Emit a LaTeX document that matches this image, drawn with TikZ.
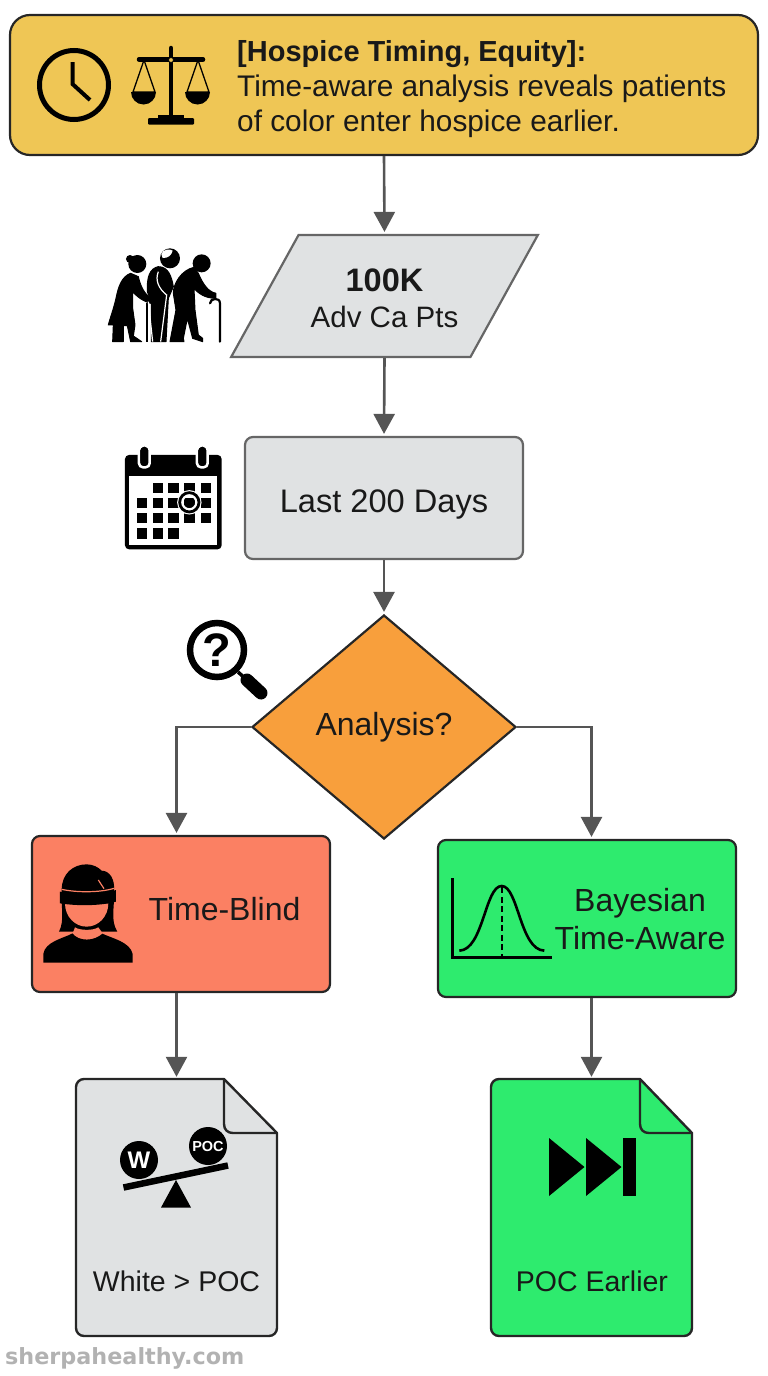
\documentclass[tikz,border=0pt]{standalone}
\usepackage{fontspec}
\setmainfont{Liberation Sans}
\newfontfamily\markfont{DejaVu Sans}
\usetikzlibrary{arrows.meta}
\usetikzlibrary{shapes.geometric}
\definecolor{headfill}{HTML}{EFC655}
\definecolor{grayfill}{HTML}{E0E2E3}
\definecolor{orangefill}{HTML}{F89F3C}
\definecolor{redfill}{HTML}{FB8063}
\definecolor{greenfill}{HTML}{2EEB6E}
\definecolor{linkgray}{HTML}{555555}
\newcommand{\fs}[1]{\fontsize{#1}{#1}\selectfont}
\tikzset{
  box/.style={rectangle,rounded corners=8pt,draw=black!85,line width=2.2pt,inner sep=0pt},
  graybox/.style={box,draw=black!60,fill=grayfill},
  lab/.style={inner sep=0pt,font=\fs{32},text=black!90},
  doclab/.style={inner sep=0pt,font=\fs{28.5},text=black!90},
  link/.style={draw=linkgray,line width=2.6pt,shorten >=2pt,-{Triangle[length=20pt,width=21pt]}},
  sheet/.style={draw=black!85,line width=2.4pt,line join=round},
  icon/.style={fill=black,draw=none},
  figure/.style={fill=black,draw=black,line width=1pt,line join=round},
  docspot/.style={inner sep=0pt,minimum width=201pt,minimum height=257pt}
}
\begin{document}
\begin{tikzpicture}[x=1pt,y=-1pt]
  \useasboundingbox (0,0) rectangle (768,1376);

  \node[box,fill=headfill,rounded corners=20pt,minimum width=748pt,minimum height=140pt] (head) at (384,85) {};
  \node[inner sep=0pt,anchor=north west,align=left,font=\fontsize{29.8}{35}\selectfont,text=black!90] (headtext) at (237,40)
    {{\fontsize{29}{35}\selectfont\textbf{[Hospice Timing, Equity]:}}\\Time-aware analysis reveals patients\\of color enter hospice earlier.};

  \node[trapezium,trapezium stretches=true,trapezium left angle=64.6,trapezium right angle=115.4,draw=black!60,fill=grayfill,
    line width=2.2pt,inner sep=0pt,minimum width=307pt,minimum height=122pt] (cohort) at (384.5,296) {\phantom{M}};
  \node[lab,font=\fs{32.5}\bfseries] (cohortnum) at (384.5,280) {100K};
  \node[lab,font=\fs{29.5}] (cohortname) at (384.5,317) {Adv Ca Pts};

  \node[graybox,minimum width=278pt,minimum height=122pt] (window) at (384,498) {};
  \node[lab,font=\fs{32.6}] (windowname) at (384,504) {Last 200 Days};

  \node[diamond,draw=black!85,fill=orangefill,line width=2.2pt,inner sep=0pt,minimum width=264pt,minimum height=224pt] (analysis) at (384,727) {\phantom{M}};
  \node[lab] (analysisname) at (384,727) {Analysis?};

  \node[box,fill=redfill,minimum width=298pt,minimum height=156pt] (blind) at (181,914) {};
  \node[lab] (blindname) at (224.5,909) {Time-Blind};

  \node[box,fill=greenfill,minimum width=298pt,minimum height=157pt] (aware) at (587,918.5) {};
  \node[lab,align=center,font=\fontsize{32}{38.5}\selectfont] (awarename) at (640,919) {Bayesian\\Time-Aware};

  \node[docspot] (leftdoc) at (176.5,1207.5) {};
  \node[docspot] (rightdoc) at (591.5,1207.5) {};

  \draw[sheet,fill=grayfill] (84,1079) -- (224,1079) -- (277,1133) -- (277,1328) arc[start angle=0,end angle=90,radius=8]
    -- (84,1336) arc[start angle=90,end angle=180,radius=8] -- (76,1087) arc[start angle=180,end angle=270,radius=8] -- cycle;
  \draw[sheet] (224,1079) -- (224,1124) .. controls (224,1130) and (228,1133) .. (233,1133) -- (277,1133);
  \draw[sheet,fill=greenfill] (499,1079) -- (640,1079) -- (692,1133) -- (692,1328) arc[start angle=0,end angle=90,radius=8]
    -- (499,1336) arc[start angle=90,end angle=180,radius=8] -- (491,1087) arc[start angle=180,end angle=270,radius=8] -- cycle;
  \draw[sheet] (640,1079) -- (640,1124) .. controls (640,1130) and (644,1133) .. (649,1133) -- (692,1133);
  \node[doclab] (leftdocname) at (176.5,1281) {White > POC};
  \node[doclab] (rightdocname) at (592,1281) {POC Earlier};

  \draw[link] (head.south) -- (cohort.north);
  \draw[link] (cohort.south) -- (window.north);
  \draw[link] (window.south) -- (analysis.north);
  \draw[link] (analysis.west) -| (leftdoc.north |- blind.north);
  \draw[link] (analysis.east) -| (rightdoc.north |- aware.north);
  \draw[link] (leftdoc.north |- blind.south) -- (leftdoc.north);
  \draw[link] (rightdoc.north |- aware.south) -- (rightdoc.north);

  % clock
  \draw[line width=5pt] (74,85) circle[radius=34.5];
  \draw[line width=4pt] (72.5,62) -- (72.5,84) -- (90,100);

  % scales
  \draw[line width=4.5pt,line cap=round] (139,59.5) -- (203,59.5);
  \draw[line width=4.5pt,line cap=round] (171,48) -- (171,118);
  \fill (158,115) rectangle (184,120);
  \fill[rounded corners=1pt] (148,118) rectangle (194,124.5);
  \draw[line width=1.3pt,line join=round] (144,60) -- (133,92) -- (155,92) -- cycle (198,60) -- (187,92) -- (209,92) -- cycle;
  \foreach \panx in {143.5,197.5}
    \fill (\panx-12.5,92) arc[start angle=180,end angle=0,radius=12.5] -- cycle;
  \draw[fill=headfill,line width=.8pt] (171,60) circle[radius=2.5];

  % elderly group
  \begin{scope}[shift={(90,230)},x=.3333pt,y=-.3333pt]
    \fill (142,102) circle[radius=27pt/3] (120,87) circle[radius=12pt/3];
    \path[figure] (122,130) .. controls (95,140) and (85,170) .. (78,205) .. controls (70,240) and (60,265) .. (55,285)
      -- (70,285) -- (68,335) -- (100,335) -- (100,287) -- (112,287) -- (122,335) -- (155,335) -- (130,318) -- (135,285)
      -- (128,235) -- (128,185) .. controls (145,205) and (170,220) .. (195,222) -- (197,208) .. controls (175,205) and (155,185) .. (145,140) -- cycle;
    \draw[line width=1.8pt] (170,220) -- (170,335);
    \fill (240,85) circle[radius=30pt/3];
    \fill[white] (214,72) .. controls (218,58) and (240,55) .. (248,62) .. controls (245,75) and (235,85) .. (218,84) -- cycle;
    \path[figure] (172,185) .. controls (170,140) and (180,115) .. (205,110) .. controls (235,110) and (245,140) .. (250,170)
      -- (235,205) -- (228,335) -- (184,335) -- (184,215) -- cycle;
    \draw[white,line width=1.2pt] (205,125) .. controls (195,150) and (205,175) .. (230,195) -- (212,335);
    \draw[white,line width=1.2pt] (175,215) -- (188,335);
    \fill (335,100) circle[radius=27pt/3];
    \path[figure] (312,112) .. controls (275,120) and (250,160) .. (250,190) -- (258,240) -- (240,335) -- (282,335) -- (280,325)
      -- (292,265) -- (308,325) -- (338,335) -- (338,325) -- (325,315) -- (315,240) -- (312,175)
      .. controls (325,190) and (345,205) .. (378,205) -- (378,190) .. controls (355,185) and (340,165) .. (325,130) -- cycle;
    \draw[line width=2.2pt,line cap=round] (360,220) .. controls (360,205) and (390,200) .. (390,220) -- (390,335);
  \end{scope}

  % calendar
  \begin{scope}[shift={(90,230)},x=.3333pt,y=-.3333pt]
    \fill[rounded corners=4pt] (105,675) rectangle (395,958);
    \fill[white] (118,737) rectangle (382,945);
    \foreach \ringx in {163,337} {
      \draw[white,line width=2.5pt,fill=black,rounded corners=4pt] (\ringx-16,648) rectangle (\ringx+16,712);
      \fill[rounded corners=4pt] (\ringx-11,650) rectangle (\ringx+11,704);
    }
    \foreach \dx/\dy in {188/758,235/758,283/758,332/758,140/803,188/803,235/803,283/803,332/803,140/849,188/849,235/849,283/849,332/849,140/895,188/895,235/895}
      \fill (\dx,\dy) rectangle +(31,31);
    \draw[white,line width=5pt] (298,817) circle[radius=29pt/3];
    \draw[line width=2.8pt] (298,817) circle[radius=29pt/3];
    \draw[white,line width=1.5pt] (298,817) circle[radius=20pt/3];
  \end{scope}

  % magnifier
  \draw[line width=6.5pt] (217,650) circle[radius=27];
  \draw[line width=3.5pt] (238,672) -- (247,680);
  \draw[line width=13pt,line cap=round] (247,680) -- (261,693);
  \node[inner sep=0pt,font=\fs{47}\bfseries] (query) at (217,650) {?};

  % blindfolded person
  \begin{scope}[shift={(30,830)},x=.3333pt,y=-.3333pt]
    \fill (40,398) -- (40,372) .. controls (45,335) and (100,325) .. (128,310) .. controls (145,335) and (195,335) .. (215,310)
      .. controls (245,325) and (300,335) .. (308,372) -- (308,398) -- cycle;
    \fill (95,180) .. controls (95,130) and (130,103) .. (170,103) .. controls (190,103) and (205,112) .. (215,122)
      .. controls (240,122) and (255,150) .. (252,180) .. controls (255,230) and (240,270) .. (262,305) -- (215,305)
      -- (130,305) -- (87,305) .. controls (105,270) and (92,230) .. (95,180) -- cycle;
    \fill[redfill] (105,220) -- (235,220) .. controls (235,260) and (205,290) .. (170,290) .. controls (135,290) and (105,260) .. (105,220) -- cycle;
    \fill[black] (135,283) .. controls (150,295) and (190,295) .. (205,283) -- (205,290) .. controls (190,302) and (150,302) .. (135,290) -- cycle;
    \fill[redfill] (135,292) .. controls (150,302) and (190,302) .. (205,292) -- (218,310) .. controls (195,332) and (145,332) .. (128,310) -- cycle;
    \fill[black] (90,185) .. controls (140,195) and (210,195) .. (258,180) -- (258,215) .. controls (210,228) and (140,228) .. (90,220) -- cycle;
    \draw[redfill,line width=1.2pt] (95,178) .. controls (140,188) and (210,188) .. (252,175);
    \draw[redfill,line width=1.2pt] (205,150) -- (222,176);
  \end{scope}

  % bell curve
  \begin{scope}[shift={(430,830)},x=.3333pt,y=-.3333pt]
    \draw[line width=3pt] (68,145) -- (68,383) -- (365,383);
    \draw[line width=2.6pt] (88,362) .. controls (160,360) and (165,168) .. (215,168) .. controls (265,168) and (270,360) .. (343,362);
    \draw[line width=2pt,dash pattern=on 6pt off 3.5pt] (215,172) -- (215,383);
  \end{scope}

  % tilted balance
  \node[circle,icon,minimum size=38pt,inner sep=0pt,text=white,font=\fs{24}\bfseries] (whitemark) at (139,1160) {W};
  \node[circle,icon,minimum size=38pt,inner sep=0pt,text=white,font=\fs{14.5}\bfseries] (pocmark) at (208,1146) {POC};
  \draw[line width=6.5pt] (123.5,1187.5) -- (228,1165.5);
  \fill (176,1180) -- (161,1207.5) -- (191,1207.5) -- cycle;

  % skip forward
  \fill (549,1138) -- (549,1196) -- (584.5,1167) -- cycle (586,1138) -- (586,1196) -- (621.5,1167) -- cycle;
  \fill (623,1138) rectangle (636,1196);

  \node[inner sep=0pt,anchor=west,text=black!30,font=\markfont\fs{22.3}\bfseries] (site) at (5,1358) {sherpahealthy.com};
\end{tikzpicture}
\end{document}
